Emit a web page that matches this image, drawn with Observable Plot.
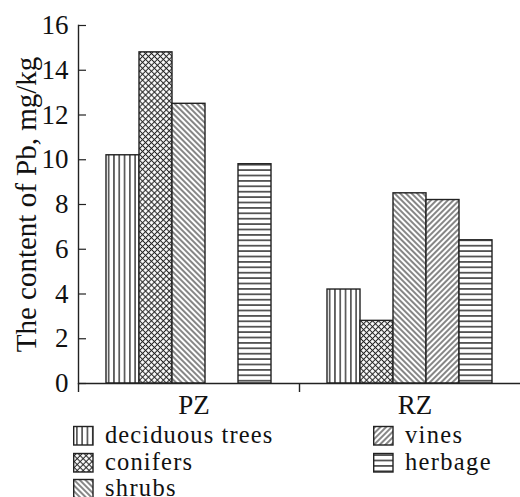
<!DOCTYPE html>
<html>
<head>
<meta charset="utf-8">
<script src="https://cdn.jsdelivr.net/npm/d3@7"></script>
<script src="https://cdn.jsdelivr.net/npm/@observablehq/plot@0.6"></script>
<style>
  html, body { margin: 0; padding: 0; background: #fff; }
  body { width: 520px; height: 497px; overflow: hidden; font-family: "Liberation Serif", serif; color: #111; }
  #chart svg, #legend { display: block; }
</style>
</head>
<body>
<svg width="0" height="0" style="position:absolute">
  <defs>
    <pattern id="pat0" patternUnits="userSpaceOnUse" width="5.3" height="10">
      <rect width="5.3" height="10" fill="#fff"/>
      <line x1="2.65" y1="0" x2="2.65" y2="10" stroke="#222" stroke-width="1.3"/>
    </pattern>
    <pattern id="pat1" patternUnits="userSpaceOnUse" width="4.2" height="4.2" patternTransform="rotate(45)">
      <rect width="4.2" height="4.2" fill="#fff"/>
      <line x1="2.1" y1="0" x2="2.1" y2="4.2" stroke="#222" stroke-width="1.05"/>
      <line x1="0" y1="2.1" x2="4.2" y2="2.1" stroke="#222" stroke-width="1.05"/>
    </pattern>
    <pattern id="pat2" patternUnits="userSpaceOnUse" width="4" height="10" patternTransform="rotate(-45)">
      <rect width="4" height="10" fill="#fff"/>
      <line x1="2" y1="0" x2="2" y2="10" stroke="#222" stroke-width="1.1"/>
    </pattern>
    <pattern id="pat3" patternUnits="userSpaceOnUse" width="4" height="10" patternTransform="rotate(45)">
      <rect width="4" height="10" fill="#fff"/>
      <line x1="2" y1="0" x2="2" y2="10" stroke="#222" stroke-width="1.1"/>
    </pattern>
    <pattern id="pat4" patternUnits="userSpaceOnUse" width="10" height="5.4">
      <rect width="10" height="5.4" fill="#fff"/>
      <line x1="0" y1="2.7" x2="10" y2="2.7" stroke="#222" stroke-width="1.4"/>
    </pattern>
  </defs>
</svg>
<div id="chart"></div>
<script>
// ---- data ----
const zones = ["PZ", "RZ"];
const series = ["deciduous trees", "conifers", "shrubs", "vines", "herbage"];
const pzValues = [10.2, 14.8, 12.5, null, 9.8];
const rzValues = [4.2, 2.8, 8.5, 8.2, 6.4];
const yTicks = [0, 2, 4, 6, 8, 10, 12, 14, 16];
const yLabel = "The content of Pb, mg/kg";

const valuesByZone = {PZ: pzValues, RZ: rzValues};
const table = [];
zones.forEach(z => series.forEach((s, i) => {
  const v = valuesByZone[z][i];
  if (v != null) table.push({zone: z, series: s, value: v});
}));

const W = 520, H = 420, ML = 78, MR = 0, MT = 25, MB = 37;
const bandHalf = (W - ML - MR) / zones.length / 2;
const font = "Liberation Serif";

const chart = Plot.plot({
  width: W, height: H,
  marginLeft: ML, marginRight: MR, marginTop: MT, marginBottom: MB,
  style: {fontFamily: font, fontSize: "27px", color: "#111", background: "#fff"},
  fx: {domain: zones, padding: 0},
  x: {domain: series, paddingInner: 0, paddingOuter: 0.82, axis: null},
  y: {domain: [0, 16]},
  marks: [
    ...series.map((s, i) => Plot.barY(table.filter(d => d.series === s), {
      fx: "zone", x: "series", y: "value",
      fill: `url(#pat${i})`, stroke: "#222", strokeWidth: 1.4
    })),
    Plot.ruleY([0], {stroke: "#222", strokeWidth: 1.4}),
    Plot.frame({anchor: "left", facetAnchor: "left", stroke: "#222", strokeWidth: 1.4}),
    Plot.axisY({
      ticks: yTicks, tickSize: -8, tickPadding: 18, fontSize: 27,
      stroke: "#222", strokeWidth: 1.2, label: null
    }),
    Plot.axisY({
      ticks: [], fontSize: 29,
      label: yLabel, labelAnchor: "center", labelOffset: 63, labelArrow: "none"
    }),
    Plot.axisFx({anchor: "bottom", tickSize: 0, tickPadding: 11, fontSize: 27, dx: 5, label: null}),
    Plot.axisFx({anchor: "bottom", text: null, tickSize: 9, dx: -bandHalf, label: null, stroke: "#222", strokeWidth: 1.4})
  ]
});
document.getElementById("chart").appendChild(chart);

// ---- legend (SVG below the chart) ----
const legendPos = [
  {x: 73, y: 23}, {x: 73, y: 50}, {x: 73, y: 76},
  {x: 373, y: 23}, {x: 373, y: 50}
];
const svgNS = "http://www.w3.org/2000/svg";
const lg = document.createElementNS(svgNS, "svg");
lg.setAttribute("id", "legend");
lg.setAttribute("width", W);
lg.setAttribute("height", 497 - H);
lg.setAttribute("font-family", font);
document.body.appendChild(lg);
series.forEach((s, i) => {
  const p = legendPos[i];
  const r = document.createElementNS(svgNS, "rect");
  r.setAttribute("x", p.x + 0.7);
  r.setAttribute("y", p.y - 16.5);
  r.setAttribute("width", 19.3);
  r.setAttribute("height", 18.5);
  r.setAttribute("fill", `url(#pat${i})`);
  r.setAttribute("stroke", "#222");
  r.setAttribute("stroke-width", 1.4);
  lg.appendChild(r);
  const t = document.createElementNS(svgNS, "text");
  t.setAttribute("x", p.x + 32);
  t.setAttribute("y", p.y);
  t.setAttribute("fill", "#111");
  t.setAttribute("font-size", 27);
  t.textContent = s;
  lg.appendChild(t);
  // keep the 27px width while using a slightly smaller glyph height
  const len = t.getComputedTextLength();
  t.setAttribute("font-size", 24.5);
  t.setAttribute("textLength", len.toFixed(1));
  t.setAttribute("lengthAdjust", "spacing");
});
</script>
</body>
</html>
